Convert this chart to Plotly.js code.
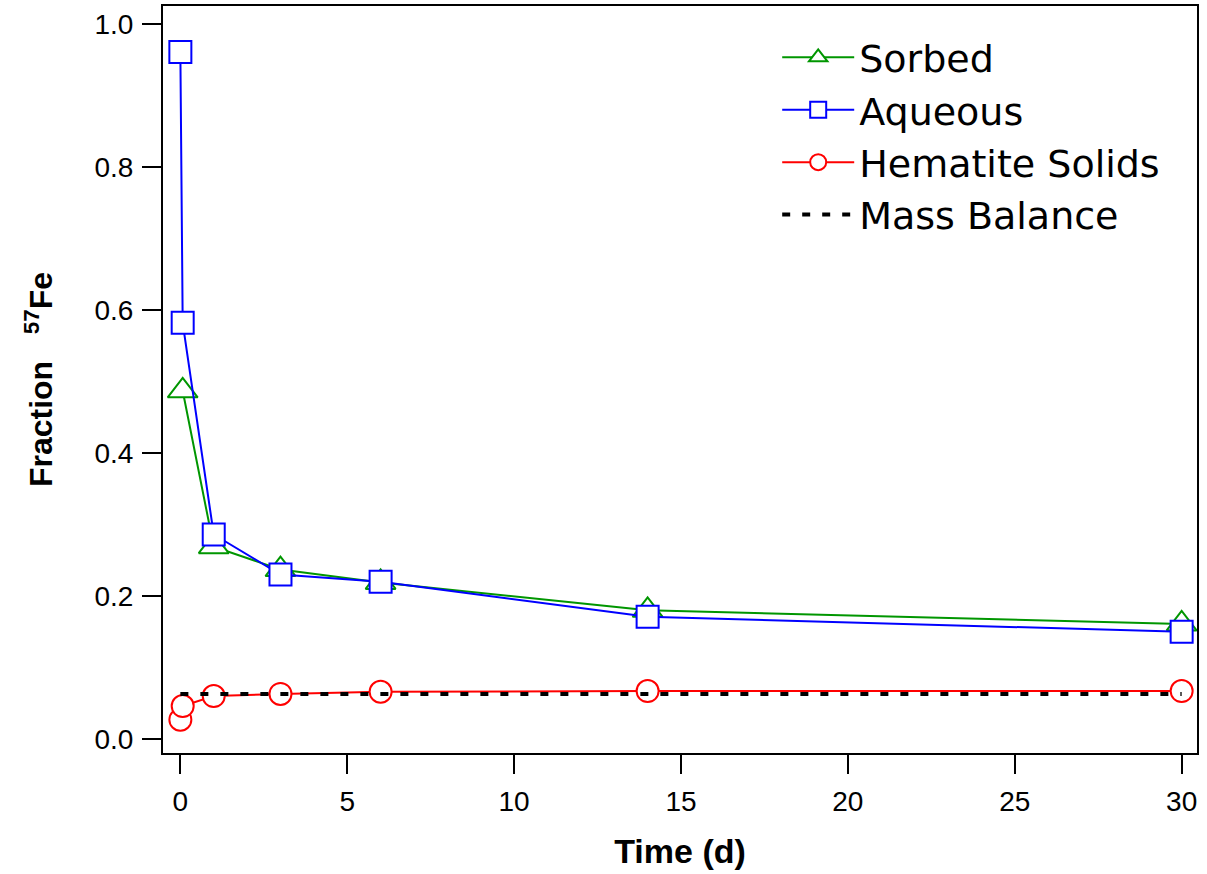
<!DOCTYPE html>
<html>
<head>
<meta charset="utf-8">
<script src="https://cdn.plot.ly/plotly-3.0.1.min.js"></script>
<style>html,body{margin:0;padding:0;background:#fff;}#chart{width:1207px;height:874px;}</style>
</head>
<body>
<div id="chart"></div>
<script>
// Data
var timeSorbed = [0.07, 1, 3, 6, 14, 30];
var sorbed = [0.487, 0.269, 0.237, 0.219, 0.180, 0.161];
var timeAll = [0, 0.07, 1, 3, 6, 14, 30];
var aqueous = [0.961, 0.582, 0.286, 0.230, 0.220, 0.171, 0.150];
var hematite = [0.027, 0.046, 0.060, 0.063, 0.066, 0.067, 0.067];
var massBalance = [0.063, 0.063, 0.063, 0.063, 0.063, 0.063, 0.063];
var seriesNames = ["Sorbed", "Aqueous", "Hematite Solids", "Mass Balance"];
var xTicks = [0, 5, 10, 15, 20, 25, 30];
var yTicks = [0.0, 0.2, 0.4, 0.6, 0.8, 1.0];

var traces = [
  {x: timeSorbed, y: sorbed, name: seriesNames[0], type: "scatter", mode: "lines+markers",
   line: {color: "#009600", width: 2},
   marker: {symbol: "triangle-up", size: 26, color: "#ffffff", line: {color: "#009600", width: 2}}},
  {x: timeAll, y: aqueous, name: seriesNames[1], type: "scatter", mode: "lines+markers",
   line: {color: "#0000ff", width: 2},
   marker: {symbol: "square", size: 22, color: "#ffffff", line: {color: "#0000ff", width: 2}}},
  {x: timeAll, y: hematite, name: seriesNames[2], type: "scatter", mode: "lines+markers",
   line: {color: "#ff0000", width: 2},
   marker: {symbol: "circle", size: 22, color: "#ffffff", line: {color: "#ff0000", width: 2}}},
  {x: timeAll, y: massBalance, name: seriesNames[3], type: "scatter", mode: "lines",
   line: {color: "#000000", width: 4, dash: "8px,12px"}}
];

var layout = {
  width: 1207, height: 874,
  margin: {l: 163, r: 10, t: 6, b: 121},
  paper_bgcolor: "#ffffff", plot_bgcolor: "#ffffff",
  font: {family: "Liberation Sans, Arial, sans-serif", color: "#000000"},
  showlegend: true,
  legend: {
    x: 0.594, y: 0.973, xanchor: "left", yanchor: "top",
    bgcolor: "rgba(0,0,0,0)", borderwidth: 0,
    font: {family: "DejaVu Sans", size: 38, color: "#000000"},
    itemwidth: 72
  },
  xaxis: {
    range: [-0.52, 30.46], tickvals: xTicks, ticktext: xTicks.map(String),
    showgrid: false, zeroline: false,
    showline: true, mirror: true, linecolor: "#000000", linewidth: 2,
    ticks: "outside", ticklen: 19, tickwidth: 2, tickcolor: "#000000",
    ticklabelstandoff: 3,
    tickfont: {family: "Liberation Sans", size: 28, color: "#000000"},
    title: {text: "Time (d)", font: {family: "Liberation Sans", size: 34, weight: "bold", color: "#000000"}, standoff: 24}
  },
  yaxis: {
    range: [-0.0196, 1.0252], tickvals: yTicks, ticktext: yTicks.map(function(v){return v.toFixed(1);}),
    showgrid: false, zeroline: false,
    showline: true, mirror: true, linecolor: "#000000", linewidth: 2,
    ticks: "outside", ticklen: 19, tickwidth: 2, tickcolor: "#000000",
    ticklabelstandoff: 3,
    tickfont: {family: "Liberation Sans", size: 28, color: "#000000"},
    title: {text: "Fraction&nbsp;&nbsp; <sup>57</sup>Fe", font: {family: "Liberation Sans", size: 32, weight: "bold", color: "#000000"}, standoff: 32}
  }
};

Plotly.newPlot("chart", traces, layout, {displayModeBar: false, staticPlot: true});
</script>
</body>
</html>
